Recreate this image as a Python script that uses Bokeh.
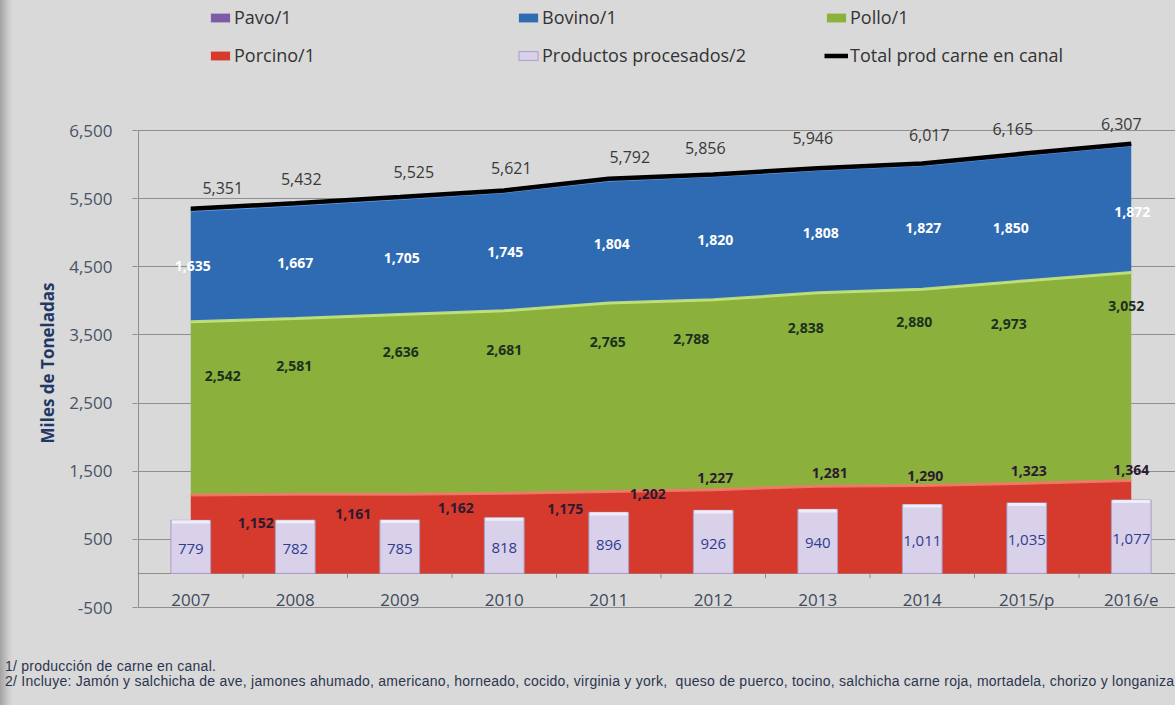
import numpy as np
from bokeh.plotting import figure
from bokeh.layouts import column
from bokeh.models import (ColumnDataSource, Range1d, FixedTicker, NumeralTickFormatter,
                          Legend, LegendItem, Title, Div)
from bokeh.transform import stack
from bokeh.core.properties import value
from bokeh.embed import file_html
from bokeh.resources import INLINE

# ---------------- data ----------------
years = ["2007", "2008", "2009", "2010", "2011", "2012", "2013", "2014", "2015/p", "2016/e"]
porcino = [1152, 1161, 1162, 1175, 1202, 1227, 1281, 1290, 1323, 1364]
pollo = [2542, 2581, 2636, 2681, 2765, 2788, 2838, 2880, 2973, 3052]
bovino = [1635, 1667, 1705, 1745, 1804, 1820, 1808, 1827, 1850, 1872]
pavo = [22, 23, 22, 20, 21, 21, 19, 20, 19, 19]
procesados = [779, 782, 785, 818, 896, 926, 940, 1011, 1035, 1077]
total = [5351, 5432, 5525, 5621, 5792, 5856, 5946, 6017, 6165, 6307]
y_ticks = [-500, 500, 1500, 2500, 3500, 4500, 5500, 6500]

footnote_1 = "1/ producción de carne en canal."
footnote_2 = ("2/ Incluye: Jamón y salchicha de ave, jamones ahumado, americano, horneado, cocido, "
              "virginia y york,&nbsp; queso de puerco, tocino, salchicha carne roja, mortadela, chorizo y longaniza")

# label pixel nudges (layout only)
total_dx = [32, 6, 14, 7, 21, -8, -5, 7, -14, -10]
total_dy = [-21, -24, -25, -22, -22, -26, -30, -28, -24, -20]
bov_dx = [2, 0, 2, 1, 3, 2, 3, 1, -16, 1]
bov_dy = [0, 1, 1, 1, 2, 2, 2, 1, 10, 3]
pol_dx = [32, -1, 1, 0, -1, -22, -12, -8, -18, -5]
pol_dy = [-32, -40, -52, -52, -55, -56, -61, -65, -58, -70]
por_dx = [65, 58, 56, 61, 39, 2, 12, 3, 2, 0]
por_dy = [-11, -20, -26, -24, -38, -54, -57, -53, -57, -57]

FONT = "Open Sans"
BG = "#d9d9d9"
EDGE = "linear-gradient(to right, #a2a2a2 0px, #b6b6b6 4px, #cfcfcf 9px, #d9d9d9 13px)"

# ---------------- geometry ----------------
W, H_MAIN, H_FOOT = 1175, 650, 55
LEFT = 137
Y_TOP_PX, Y_BOT_PX = 130, 607           # pixel rows of 6500 and -500
upp = 7000 / (Y_BOT_PX - Y_TOP_PX)       # data units per pixel (y)
cat_w = 104.5                            # pixels per category
x0 = -0.5 - 1 / cat_w
x1 = x0 + (W - LEFT) / cat_w
y1 = 6500 + Y_TOP_PX * upp
y0 = -500 - (H_MAIN - Y_BOT_PX) * upp

n = len(years)
xs = list(range(n))
a_por = np.array(porcino, dtype=float)
a_pol = np.array(pollo, dtype=float)
a_bov = np.array(bovino, dtype=float)

src = ColumnDataSource(dict(
    x=xs, years=years, porcino=porcino, pollo=pollo, bovino=bovino, pavo=pavo,
    procesados=procesados, total=total,
    proc_mid=[v / 2 for v in procesados],
    proc_hl=[v - 45 for v in procesados],
    ybase=[-500] * n,
    por_mid=list(a_por / 2),
    pol_mid=list(a_por + a_pol / 2),
    bov_mid=list(a_por + a_pol + a_bov / 2),
    total_lbl=[f"{v:,}" for v in total],
    por_lbl=[f"{v:,}" for v in porcino],
    pol_lbl=[f"{v:,}" for v in pollo],
    bov_lbl=[f"{v:,}" for v in bovino],
    proc_lbl=[f"{v:,}" for v in procesados],
    total_dx=total_dx, total_dy=total_dy, bov_dx=bov_dx, bov_dy=bov_dy,
    pol_dx=pol_dx, pol_dy=pol_dy, por_dx=por_dx, por_dy=por_dy,
))

p = figure(width=W, height=H_MAIN, output_backend="svg", toolbar_location=None,
           x_range=Range1d(x0, x1), y_range=Range1d(y0, y1),
           min_border_left=LEFT, min_border_right=0, min_border_top=0, min_border_bottom=0,
           background_fill_color=BG, border_fill_color=BG, border_fill_alpha=0,
           outline_line_color=None,
           styles={"background": EDGE + ", " + BG})

# axes / grid
p.xaxis.visible = False
p.xgrid.visible = False
p.ygrid.ticker = FixedTicker(ticks=[-500, 0] + y_ticks[1:])
p.ygrid.grid_line_color = "#8e8e8e"
p.ygrid.grid_line_width = 1
yax = p.yaxis[0]
yax.ticker = FixedTicker(ticks=y_ticks)
yax.formatter = NumeralTickFormatter(format="0,0")
yax.axis_line_color = None
yax.major_tick_line_color = "#8e8e8e"
yax.major_tick_out = 5
yax.major_tick_in = 0
yax.minor_tick_line_color = None
yax.major_label_text_font = FONT
yax.major_label_text_font_size = "17px"
yax.major_label_text_color = "#4a5366"
yax.major_label_standoff = 20
# vertical axis line only between -500 and 6500
p.segment(x0=[-0.5], y0=[y_ticks[0]], x1=[-0.5], y1=[y_ticks[-1]], line_color="#8e8e8e", line_width=1)

# axis title (left-side title, positioned along the plotting band)
p.add_layout(Title(text="Miles de Toneladas", text_font=FONT, text_font_style="bold",
                   text_font_size="17px", text_color="#1f3864", align="left",
                   offset=H_MAIN - 443, standoff=16), "left")

# stacked areas
areas = p.varea_stack(["porcino", "pollo", "bovino", "pavo"], x="x", source=src,
                      color=["#d63a2c", "#8bb03c", "#2f6bb3", "#7d5ba6"])
# bevel highlights on top edges
p.line(x="x", y=stack("porcino"), source=src, line_color="#f07a68", line_width=3, line_alpha=0.9)
p.line(x="x", y=stack("porcino", "pollo"), source=src, line_color="#c6e57c", line_width=3, line_alpha=0.9)
p.line(x="x", y=stack("porcino", "pollo", "bovino"), source=src, line_color="#6ea6e8", line_width=3, line_alpha=0.9)
total_line = p.line(x="x", y="total", source=src, line_color="black", line_width=4.5)

# category separators on the zero line
p.segment(x0=[i + 0.5 for i in xs[:-1]], y0=[0] * (n - 1), x1=[i + 0.5 for i in xs[:-1]],
          y1=[-70] * (n - 1), line_color="#8e8e8e", line_width=1)

# bars
bars = p.vbar(x="x", top="procesados", bottom=0, width=0.38, source=src,
              fill_color="#d9d0ea", line_color="#a99dc6", line_width=1)
p.vbar(x="x", top="procesados", bottom="proc_hl", width=0.36, source=src,
       fill_color="#f1edf8", line_color=None)

# value labels
p.text(x="x", y="total", text="total_lbl", source=src, x_offset="total_dx", y_offset="total_dy",
       text_font=value(FONT), text_font_size="16px", text_color="#3a3a3a",
       text_align="center", text_baseline="middle")
p.text(x="x", y="bov_mid", text="bov_lbl", source=src, x_offset="bov_dx", y_offset="bov_dy",
       text_font=value(FONT), text_font_size="14px", text_font_style="bold", text_color="white",
       text_align="center", text_baseline="middle")
p.text(x="x", y="pol_mid", text="pol_lbl", source=src, x_offset="pol_dx", y_offset="pol_dy",
       text_font=value(FONT), text_font_size="14px", text_font_style="bold", text_color="#1c2f20",
       text_align="center", text_baseline="middle")
p.text(x="x", y="por_mid", text="por_lbl", source=src, x_offset="por_dx", y_offset="por_dy",
       text_font=value(FONT), text_font_size="14px", text_font_style="bold", text_color="#2c1a30",
       text_align="center", text_baseline="middle")
p.text(x="x", y="proc_mid", text="proc_lbl", source=src, y_offset=2,
       text_font=value(FONT), text_font_size="15px", text_color="#2f3d8f",
       text_align="center", text_baseline="middle")

# category labels
p.text(x="x", y="ybase", text="years", source=src, y_offset=-8,
       text_font=value(FONT), text_font_size="17px", text_color="#3f4a5c",
       text_align="center", text_baseline="middle")

# legend (inside the tall frame, at the top)
items = [
    LegendItem(label="Pavo/1", renderers=[areas[3]]),
    LegendItem(label="Bovino/1", renderers=[areas[2]]),
    LegendItem(label="Pollo/1", renderers=[areas[1]]),
    LegendItem(label="Porcino/1", renderers=[areas[0]]),
    LegendItem(label="Productos procesados/2", renderers=[bars]),
    LegendItem(label="Total prod carne en canal", renderers=[total_line]),
]
legend = Legend(items=items, orientation="horizontal", ncols=3, location=(71, H_MAIN - 70),
                background_fill_alpha=0, border_line_color=None, padding=0, margin=0,
                glyph_width=24, glyph_height=11, label_standoff=2, label_width=274,
                label_height=30, spacing=8,
                label_text_font=FONT, label_text_font_size="18px", label_text_color="#333333")
p.add_layout(legend, "center")

# ---------------- footnotes ----------------
foot_html = (
    '<div style="padding:9px 0 0 5px; font-family:\'Liberation Sans\', sans-serif; font-size:14px; '
    'line-height:15px; letter-spacing:0.25px; color:#2b3550; white-space:nowrap;">'
    f"{footnote_1}<br>{footnote_2}</div>"
)
foot = Div(text=foot_html, width=W, height=H_FOOT, margin=0,
           styles={"background": EDGE + ", " + BG, "overflow": "hidden"})

layout = column(p, foot, spacing=0)
open("out.html", "w").write(file_html(layout, INLINE))
